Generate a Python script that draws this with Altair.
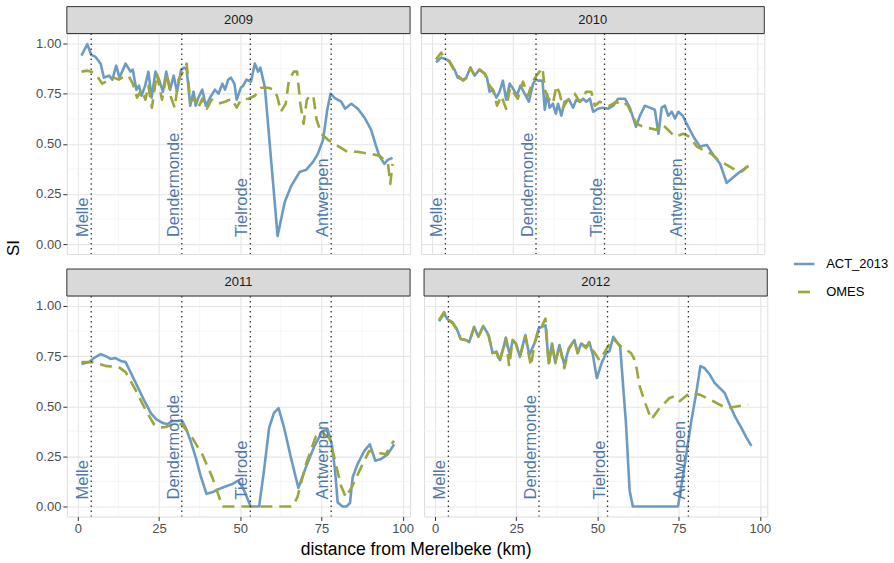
import altair as alt
import pandas as pd

# ---------------- data ----------------
years = ["2009", "2010", "2011", "2012"]
series_names = ["ACT_2013", "OMES"]
station_names = ["Melle", "Dendermonde", "Tielrode", "Antwerpen"]
station_km = [4.1, 32.0, 53.1, 78.0]
x_tick_values = [0, 25, 50, 75, 100]
y_tick_values = [0.0, 0.25, 0.5, 0.75, 1.0]
x_minor_values = [12.5, 37.5, 62.5, 87.5]
y_minor_values = [0.125, 0.375, 0.625, 0.875]

km_2009_act = [1.1, 2.9, 4.1, 5.4, 7.0, 8.0, 9.6, 10.6, 11.8, 12.8, 14.7, 16.2, 16.9, 18.0, 18.8,
               19.6, 20.7, 21.7, 22.7, 23.9, 25.0, 26.2, 27.2, 28.4, 29.5, 30.5, 31.8, 32.8, 33.5, 34.6,
               35.6, 36.3, 37.1, 38.3, 39.4, 40.7, 42.2, 43.3, 44.5, 45.3, 46.3, 47.1, 48.2, 48.9, 50.2,
               50.9, 51.9, 53.3, 54.5, 55.5, 56.2, 57.6, 61.5, 63.7, 65.7, 68.3, 70.3, 72.4, 73.9, 75.5,
               76.8, 77.8, 79.0, 81.1, 82.3, 84.2, 86.2, 88.3, 90.3, 91.8, 92.8, 94.4, 95.4, 96.9]
si_2009_act = [0.94, 0.997, 0.944, 0.934, 0.90, 0.83, 0.84, 0.82, 0.89, 0.83, 0.90, 0.86, 0.87, 0.77, 0.79,
               0.74, 0.79, 0.86, 0.73, 0.86, 0.82, 0.76, 0.86, 0.77, 0.84, 0.76, 0.87, 0.88, 0.87, 0.69,
               0.76, 0.69, 0.73, 0.77, 0.69, 0.73, 0.77, 0.75, 0.80, 0.77, 0.82, 0.83, 0.80, 0.72, 0.78,
               0.79, 0.82, 0.81, 0.90, 0.86, 0.88, 0.78, 0.04, 0.21, 0.29, 0.36, 0.37, 0.41, 0.45, 0.52,
               0.67, 0.75, 0.73, 0.71, 0.675, 0.70, 0.675, 0.63, 0.57, 0.49, 0.44, 0.40, 0.42, 0.43]

km_2009_omes = [1.1, 2.9, 4.1, 5.4, 7.5, 9.6, 11.0, 12.6, 13.6, 15.6, 16.9, 18.2, 19.6, 20.8, 21.7,
                22.8, 24.3, 25.9, 27.4, 28.7, 29.8, 31.0, 32.5, 33.5, 34.6, 36.1, 37.1, 38.3, 39.7, 41.2,
                43.3, 45.3, 47.3, 48.9, 50.2, 52.5, 54.5, 56.5, 58.6, 60.5, 61.5, 62.5, 64.0, 65.0, 66.5,
                67.5, 68.5, 69.5, 70.5, 71.5, 72.5, 73.5, 75.0, 77.0, 80.0, 83.0, 86.0, 90.0, 93.0, 95.5,
                96.2, 96.9]
si_2009_omes = [0.86, 0.865, 0.86, 0.85, 0.80, 0.82, 0.83, 0.82, 0.83, 0.84, 0.80, 0.73, 0.77, 0.72, 0.79,
                0.68, 0.85, 0.72, 0.85, 0.73, 0.68, 0.82, 0.865, 0.90, 0.71, 0.725, 0.68, 0.725, 0.675, 0.72,
                0.70, 0.71, 0.725, 0.68, 0.72, 0.725, 0.74, 0.78, 0.78, 0.77, 0.73, 0.66, 0.70, 0.82, 0.86,
                0.86, 0.70, 0.60, 0.72, 0.74, 0.74, 0.62, 0.55, 0.52, 0.49, 0.46, 0.46, 0.45, 0.44, 0.40,
                0.30, 0.40]

km_2010_act = [1.2, 2.8, 3.8, 5.3, 6.9, 7.9, 9.5, 10.5, 11.8, 13.1, 14.6, 16.2, 16.9, 17.7, 18.7,
               19.8, 20.8, 21.8, 22.8, 23.9, 25.1, 26.1, 27.2, 28.5, 29.8, 31.1, 31.9, 32.9, 34.0, 34.7,
               35.4, 36.2, 37.2, 38.1, 38.8, 39.8, 40.8, 42.2, 43.4, 44.4, 45.5, 46.5, 47.5, 48.6, 49.6,
               51.1, 52.7, 54.2, 55.8, 57.3, 59.4, 60.9, 62.8, 64.0, 65.5, 67.1, 68.6, 69.7, 70.7, 71.7,
               72.7, 73.8, 74.8, 75.8, 77.2, 78.4, 80.5, 82.5, 84.6, 86.6, 88.7, 90.7, 94.3, 97.4]
si_2010_act = [0.906, 0.93, 0.925, 0.914, 0.87, 0.83, 0.82, 0.83, 0.88, 0.84, 0.87, 0.85, 0.83, 0.76, 0.77,
               0.73, 0.76, 0.815, 0.72, 0.80, 0.77, 0.74, 0.79, 0.75, 0.71, 0.80, 0.82, 0.815, 0.815, 0.67,
               0.75, 0.68, 0.70, 0.65, 0.70, 0.64, 0.71, 0.72, 0.68, 0.72, 0.71, 0.725, 0.71, 0.725, 0.66,
               0.675, 0.68, 0.675, 0.69, 0.725, 0.725, 0.68, 0.585, 0.64, 0.69, 0.68, 0.67, 0.55, 0.68, 0.69,
               0.64, 0.66, 0.626, 0.66, 0.64, 0.60, 0.535, 0.486, 0.494, 0.445, 0.40, 0.305, 0.354, 0.39]

km_2010_omes = [1.2, 2.8, 3.8, 5.3, 7.4, 9.5, 10.8, 11.8, 13.1, 14.6, 16.2, 17.7, 18.7, 20.0, 21.3,
                22.8, 24.0, 26.4, 28.0, 29.5, 31.1, 32.6, 34.0, 34.7, 35.7, 37.2, 38.3, 39.3, 40.3, 41.8,
                43.9, 45.5, 47.5, 49.0, 50.1, 51.6, 54.7, 56.8, 58.3, 60.0, 61.7, 63.0, 65.0, 67.1, 69.1,
                70.7, 72.0, 74.8, 77.4, 79.4, 81.5, 83.5, 86.0, 88.7, 90.2, 93.3, 95.4, 97.4]
si_2010_omes = [0.92, 0.955, 0.925, 0.91, 0.85, 0.815, 0.83, 0.88, 0.84, 0.87, 0.85, 0.79, 0.77, 0.69, 0.74,
                0.675, 0.78, 0.725, 0.81, 0.74, 0.815, 0.85, 0.88, 0.77, 0.73, 0.70, 0.79, 0.75, 0.68, 0.72,
                0.75, 0.71, 0.76, 0.76, 0.69, 0.71, 0.69, 0.71, 0.69, 0.70, 0.64, 0.60, 0.585, 0.577, 0.57,
                0.60, 0.58, 0.535, 0.55, 0.535, 0.486, 0.47, 0.45, 0.41, 0.40, 0.37, 0.362, 0.39]

km_2011_act = [1.1, 3.4, 4.9, 7.0, 8.5, 10.1, 11.6, 13.2, 14.7, 16.2, 18.3, 20.3, 22.4, 24.2, 26.0,
               27.5, 29.1, 30.6, 32.0, 33.2, 34.7, 36.3, 37.8, 39.6, 41.4, 43.5, 45.5, 47.6, 49.4, 51.2,
               53.2, 55.8, 57.3, 58.9, 60.4, 61.8, 63.5, 65.6, 67.9, 70.2, 72.8, 75.3, 76.9, 78.2, 79.2,
               80.0, 81.5, 82.7, 83.8, 84.6, 86.1, 88.2, 89.9, 91.6, 93.3, 95.4, 97.4]
si_2011_act = [0.711, 0.72, 0.74, 0.76, 0.75, 0.736, 0.74, 0.726, 0.72, 0.67, 0.60, 0.533, 0.467, 0.434, 0.417,
               0.41, 0.426, 0.426, 0.43, 0.393, 0.327, 0.244, 0.153, 0.063, 0.071, 0.087, 0.10, 0.112, 0.129, 0.08,
               0.0, 0.0, 0.178, 0.393, 0.467, 0.49, 0.393, 0.244, 0.092, 0.195, 0.30, 0.376, 0.384, 0.31, 0.178,
               0.02, 0.0, 0.0, 0.017, 0.145, 0.21, 0.277, 0.31, 0.228, 0.236, 0.26, 0.31]

km_2011_omes = [1.1, 4.4, 9.0, 12.6, 14.7, 17.8, 20.9, 23.4, 25.0, 27.0, 29.6, 32.0, 35.2, 38.3, 41.4,
                44.5, 55.0, 66.1, 67.6, 70.2, 73.3, 75.3, 77.4, 79.2, 81.0, 82.5, 84.6, 87.2, 89.7, 91.8,
                94.9, 96.4, 97.4]
si_2011_omes = [0.72, 0.72, 0.70, 0.695, 0.67, 0.58, 0.48, 0.41, 0.393, 0.396, 0.41, 0.41, 0.343, 0.26, 0.145,
                0.0, 0.0, 0.0, 0.046, 0.21, 0.35, 0.368, 0.343, 0.228, 0.104, 0.046, 0.104, 0.195, 0.277, 0.27,
                0.26, 0.31, 0.327]

km_2012_act = [1.2, 2.8, 3.8, 5.3, 6.6, 7.9, 9.5, 10.5, 12.0, 13.3, 14.8, 16.5, 17.7, 18.9, 20.0,
               21.0, 21.8, 23.0, 23.9, 24.9, 26.1, 27.8, 29.0, 30.6, 31.9, 32.9, 34.0, 35.0, 36.0, 37.0,
               38.3, 39.8, 41.2, 42.9, 43.9, 45.0, 46.5, 47.5, 48.6, 49.8, 51.4, 52.7, 53.7, 54.9, 56.0,
               57.0, 58.8, 59.9, 60.9, 74.8, 76.9, 78.9, 80.5, 81.7, 83.0, 84.6, 86.1, 87.7, 89.2, 90.7,
               92.3, 94.3, 95.9, 97.4]
si_2012_act = [0.924, 0.962, 0.934, 0.92, 0.888, 0.835, 0.83, 0.82, 0.896, 0.847, 0.90, 0.855, 0.765, 0.772, 0.73,
               0.79, 0.842, 0.756, 0.83, 0.813, 0.748, 0.855, 0.756, 0.813, 0.888, 0.896, 0.904, 0.714, 0.813, 0.72,
               0.805, 0.706, 0.79, 0.83, 0.765, 0.813, 0.797, 0.82, 0.756, 0.64, 0.72, 0.765, 0.775, 0.846, 0.82,
               0.797, 0.41, 0.08, 0.0, 0.0, 0.21, 0.426, 0.574, 0.70, 0.69, 0.657, 0.616, 0.59, 0.566, 0.508,
               0.45, 0.393, 0.343, 0.302]

km_2012_omes = [1.2, 2.8, 3.8, 5.3, 6.6, 7.9, 9.5, 10.5, 12.0, 13.3, 14.8, 16.5, 17.7, 18.9, 19.8,
                21.0, 21.8, 22.8, 23.9, 24.9, 26.1, 27.8, 29.5, 30.6, 32.1, 32.9, 34.0, 35.0, 36.0, 37.0,
                38.3, 39.8, 41.2, 42.9, 43.9, 45.0, 46.5, 47.5, 48.6, 50.6, 52.2, 54.7, 56.8, 60.4, 61.7,
                63.0, 64.5, 66.6, 69.1, 72.2, 73.8, 75.3, 78.4, 81.5, 85.6, 89.7, 93.3, 96.4]
si_2012_omes = [0.93, 0.97, 0.934, 0.915, 0.885, 0.835, 0.83, 0.82, 0.89, 0.845, 0.895, 0.85, 0.765, 0.77, 0.72,
                0.79, 0.84, 0.70, 0.83, 0.81, 0.745, 0.85, 0.70, 0.81, 0.89, 0.90, 0.937, 0.706, 0.81, 0.715,
                0.80, 0.69, 0.785, 0.83, 0.765, 0.81, 0.79, 0.815, 0.78, 0.73, 0.77, 0.838, 0.805, 0.764, 0.723,
                0.60, 0.525, 0.434, 0.49, 0.541, 0.55, 0.525, 0.566, 0.558, 0.525, 0.49, 0.50, 0.508]

series_table = [
    ("2009", "ACT_2013", km_2009_act, si_2009_act), ("2009", "OMES", km_2009_omes, si_2009_omes),
    ("2010", "ACT_2013", km_2010_act, si_2010_act), ("2010", "OMES", km_2010_omes, si_2010_omes),
    ("2011", "ACT_2013", km_2011_act, si_2011_act), ("2011", "OMES", km_2011_omes, si_2011_omes),
    ("2012", "ACT_2013", km_2012_act, si_2012_act), ("2012", "OMES", km_2012_omes, si_2012_omes),
]
frames = [pd.DataFrame({"year": y, "series": s, "km": k, "si": v}) for y, s, k, v in series_table]
lines_df = pd.concat(frames, ignore_index=True)
stations_df = pd.DataFrame({"station": station_names, "km": station_km})
xminor_df = pd.DataFrame({"v": x_minor_values})
yminor_df = pd.DataFrame({"v": y_minor_values})

# ---------------- style ----------------
FONT = "Liberation Sans"
W, H, STRIP = 344, 221, 27
XDOM = [-3.4, 102.3]
YDOM = [-0.05, 1.05]
series_colors = ["#6B9BC3", "#9DA63B"]
series_dash = [[1, 0], [12, 7]]
label_color = "#4F78A6"
MAJOR_GRID = "#E6E6E6"
MINOR_GRID = "#F2F2F2"

legend = alt.Legend(title=None, orient="none", legendX=727, legendY=219,
                    symbolType="stroke", symbolSize=420, symbolStrokeWidth=2.6,
                    symbolDashOffset=15,
                    labelFontSize=13, labelColor="#000000", labelFont=FONT,
                    rowPadding=9, labelOffset=10)


def make_axis(values, show, fmt):
    return alt.Axis(
        values=values, title=None, domain=False, grid=True, format=fmt,
        gridColor=MAJOR_GRID, gridWidth=1.1,
        ticks=show, tickSize=4, tickColor="#333333", tickWidth=1,
        labels=show, labelOverlap=False, labelFlush=False, labelFontSize=13,
        labelColor="#4D4D4D", labelFont=FONT, labelPadding=2,
    )


def panel(year, show_y, show_x):
    d = lines_df[lines_df["year"] == year]
    xs = alt.Scale(domain=XDOM, nice=False, zero=False)
    ys = alt.Scale(domain=YDOM, nice=False, zero=False)
    xax = make_axis(x_tick_values, show_x, "d")
    yax = make_axis(y_tick_values, show_y, ".2f")

    lines = alt.Chart(d).mark_line(strokeWidth=2.6, strokeJoin="round").encode(
        x=alt.X("km:Q", scale=xs, axis=xax),
        y=alt.Y("si:Q", scale=ys, axis=yax),
        color=alt.Color("series:N", scale=alt.Scale(domain=series_names, range=series_colors), legend=legend),
        strokeDash=alt.StrokeDash("series:N", scale=alt.Scale(domain=series_names, range=series_dash), legend=legend),
    )

    xminor = alt.Chart(xminor_df).mark_rule(color=MINOR_GRID, strokeWidth=0.7).encode(
        x=alt.X("v:Q", scale=xs, axis=xax))
    yminor = alt.Chart(yminor_df).mark_rule(color=MINOR_GRID, strokeWidth=0.7).encode(
        y=alt.Y("v:Q", scale=ys, axis=yax))

    rules = alt.Chart(stations_df).mark_rule(
        color="#333333", strokeDash=[1.5, 3.5], strokeWidth=1.3
    ).encode(x=alt.X("km:Q", scale=xs, axis=xax))

    labels = alt.Chart(stations_df).mark_text(
        angle=270, align="left", baseline="bottom", fontSize=16.5, color=label_color, font=FONT
    ).encode(
        x=alt.X("km:Q", scale=xs, axis=xax),
        y=alt.YDatum(0.035, type="quantitative", scale=ys, axis=yax),
        text="station:N",
    )

    strip = alt.Chart(pd.DataFrame({"year": [year]})).mark_rect(
        fill="#D9D9D9", stroke="#333333", strokeWidth=1
    ).encode(x=alt.value(0), x2=alt.value(W), y=alt.value(-STRIP), y2=alt.value(0))

    strip_text = alt.Chart(pd.DataFrame({"year": [year]})).mark_text(
        fontSize=13, color="#1A1A1A", font=FONT, baseline="middle", align="center"
    ).encode(x=alt.value(W / 2), y=alt.value(-STRIP / 2), text="year:N")

    return alt.layer(xminor, yminor, lines, rules, labels, strip, strip_text).properties(width=W, height=H)


top = alt.hconcat(panel("2009", True, False), panel("2010", False, False), spacing=9)
bottom = alt.hconcat(panel("2011", True, True), panel("2012", False, True), spacing=9)
inner = alt.vconcat(
    top, bottom, spacing=12,
    title=alt.TitleParams("distance from Merelbeke (km)", orient="bottom", anchor="middle",
                          fontSize=17.5, fontWeight="normal", font=FONT,
                          color="#000000", offset=5, dx=13),
)
chart = alt.hconcat(
    inner,
    title=alt.TitleParams("SI", orient="left", anchor="middle", fontSize=17, fontWeight="normal",
                          font=FONT, color="#000000", offset=12, dx=34),
    padding=5,
).configure_view(stroke="#333333", strokeWidth=1).configure(font=FONT)

chart.save("out.html", embed_options={"renderer": "svg", "actions": False})
